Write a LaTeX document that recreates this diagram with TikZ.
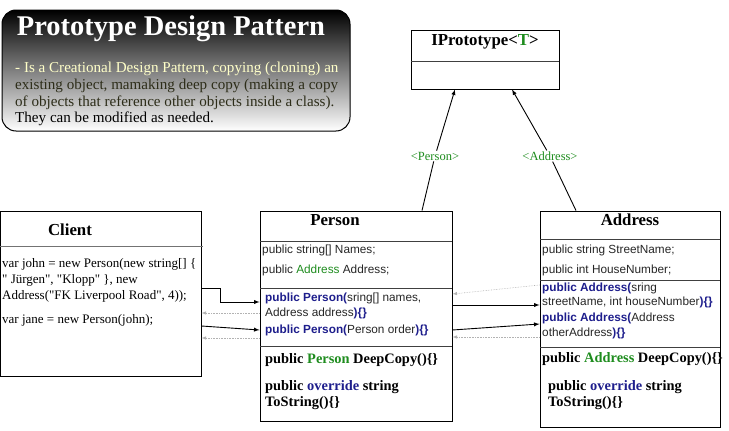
\documentclass[tikz,border=0pt]{standalone}
\usepackage{fontspec}
\setmainfont{Liberation Serif}[Ligatures=TeXOff]
\setsansfont{Liberation Sans}[Ligatures=TeXOff]
\usepackage{xcolor}
\usetikzlibrary{arrows,positioning,calc}

\definecolor{kwgreen}{RGB}{30,140,30}
\definecolor{kwblue}{RGB}{30,30,140}
\definecolor{introhi}{RGB}{255,255,200}
\definecolor{introlo}{RGB}{45,45,25}
\newcommand{\kwb}[1]{\textcolor{kwblue}{\textbf{#1}}}
\newcommand{\kwg}[1]{\textcolor{kwgreen}{#1}}

\begin{document}
\begin{tikzpicture}[x=1pt, y=-1pt]
  % Define styles
  \tikzstyle{classbox} = [rectangle, draw, line width=0.9pt, inner sep=0pt]
  \tikzstyle{divider} = [line width=0.9pt, black!75]
  \tikzstyle{header} = [inner sep=0pt, font=\fontsize{16.8}{18}\selectfont\bfseries]
  \tikzstyle{field} = [anchor=west, inner sep=0pt, font=\sffamily\fontsize{11.8}{13}\selectfont, black!85]
  \tikzstyle{ctor} = [anchor=west, inner sep=0pt, font=\sffamily\fontsize{11.8}{13}\selectfont, black!85]
  \tikzstyle{method} = [anchor=west, inner sep=0pt, font=\fontsize{14.4}{16}\selectfont\bfseries]
  \tikzstyle{code} = [anchor=west, inner sep=0pt, font=\fontsize{13}{15}\selectfont]
  \tikzstyle{intro} = [anchor=west, inner sep=0pt, font=\fontsize{15.1}{17}\selectfont]
  \tikzstyle{arrow} = [line width=0.9pt, ->, >=latex]
  \tikzstyle{back} = [line width=0.6pt, densely dotted, black!30, ->, >=latex]
  \tikzstyle{tlabel} = [inner sep=1pt, font=\fontsize{12.5}{14}\selectfont, kwgreen]

  \useasboundingbox (0,0) rectangle (729,431);

  % Title panel
  \node [rectangle, draw, line width=1pt, rounded corners=14pt, top color=black, bottom color=white,
         minimum width=348, minimum height=121] (intro) at (176,70.5) {};
  \node [inner sep=0pt, font=\fontsize{28.5}{30}\selectfont\bfseries, white] (introtitle) at (171,29) {Prototype Design Pattern};
  \node [intro, introhi] (intro1) at (15,69) {- Is a Creational Design Pattern, copying (cloning) an};
  \node [intro, introlo] (intro2) at (15,86) {existing object, mamaking deep copy (making a copy};
  \node [intro, introlo] (intro3) at (15,103) {of objects that reference other objects inside a class).};
  \node [intro, black] (intro4) at (15,119) {They can be modified as needed.};

  % Interface
  \node [classbox, minimum width=148, minimum height=59] (iproto) at (485,59.5) {};
  \node [header] (iprototitle) at (485,42) {IPrototype<\kwg{T}>};
  \draw [divider] (411,61) -- (559,61);

  % Client
  \node [classbox, minimum width=201, minimum height=165] (client) at (100.5,293.5) {};
  \node [header] (clienttitle) at (70,230) {Client};
  \draw [divider, black!55] (0,246) -- (203,246);
  \node [code] (c1) at (2,264) {var john = new Person(new string[] \{};
  \node [code] (c2) at (2,280) {" Jürgen", "Klopp" \}, new};
  \node [code] (c3) at (2,296) {Address("FK Liverpool Road", 4));};
  \node [code] (c4) at (2,320) {var jane = new Person(john);};

  % Person
  \node [classbox, minimum width=192, minimum height=210] (person) at (356,316) {};
  \node [header] (persontitle) at (335,220) {Person};
  \draw [divider] (260,241) -- (452,241);
  \node [field] (pf1) at (262,250) {public string[] Names;};
  \node [field] (pf2) at (262,270) {public \kwg{Address} Address;};
  \draw [divider] (260,288) -- (452,288);
  \node [ctor] (pc1) at (265,298) {\kwb{public Person(}sring[] names,};
  \node [ctor] (pc2) at (265,313) {Address address\kwb{)\{\}}};
  \node [ctor] (pc3) at (265,330) {\kwb{public Person(}Person order\kwb{)\{\}}};
  \draw [divider] (260,346) -- (452,346);
  \node [method] (pm1) at (265,360) {public \kwg{Person} DeepCopy()\{\}};
  \node [method] (pm2) at (265,387) {public \textcolor{kwblue}{override} string};
  \node [method] (pm3) at (265,403) {ToString()\{\}};

  % Address
  \node [classbox, minimum width=180, minimum height=216] (address) at (630,319) {};
  \node [header] (addresstitle) at (630,220) {Address};
  \draw [divider] (540,239) -- (720,239);
  \node [field] (af1) at (542,250) {public string StreetName;};
  \node [field] (af2) at (542,270) {public int HouseNumber;};
  \draw [divider] (540,280) -- (720,280);
  \node [ctor] (ac1) at (542,288) {\kwb{public Address(}sring};
  \node [ctor] (ac2) at (542,302) {streetName, int houseNumber\kwb{)\{\}}};
  \node [ctor] (ac3) at (542,318) {\kwb{public Address(}Address};
  \node [ctor] (ac4) at (542,333) {otherAddress\kwb{)\{\}}};
  \draw [divider] (540,347) -- (720,347);
  \node [method] (am1) at (542,359) {public \kwg{Address} DeepCopy()\{\}};
  \node [method] (am2) at (548,387) {public \textcolor{kwblue}{override} string};
  \node [method] (am3) at (548,403) {ToString()\{\}};

  % Realisation of IPrototype<T>
  \node [tlabel] (lperson) at (435,156) {<Person>};
  \node [tlabel] (laddress) at (550,156) {<Address>};
  \draw [arrow] (person.north -| 422,0) -- (lperson) -- (iproto.south -| 455,0);
  \draw [arrow] (address.north -| 576,0) -- (laddress) -- (iproto.south -| 512,0);

  % Calls and returns
  \draw [arrow] (client.east |- 0,288) -- (220,288) |- (person.west |- 0,302);
  \draw [back] (person.west |- 0,313) -- (client.east |- 0,313);
  \draw [arrow] (client.east |- 0,326) -- (person.west |- 0,330);
  \draw [back] (person.west |- 0,338) -- (client.east |- 0,338);
  \draw [back] (address.west |- 0,285) -- (person.east |- 0,294);
  \draw [arrow] (person.east |- 0,305) -- (address.west |- 0,305);
  \draw [arrow] (person.east |- 0,330) -- (address.west |- 0,324);
  \draw [back] (address.west |- 0,337) -- (person.east |- 0,337);
\end{tikzpicture}
\end{document}
